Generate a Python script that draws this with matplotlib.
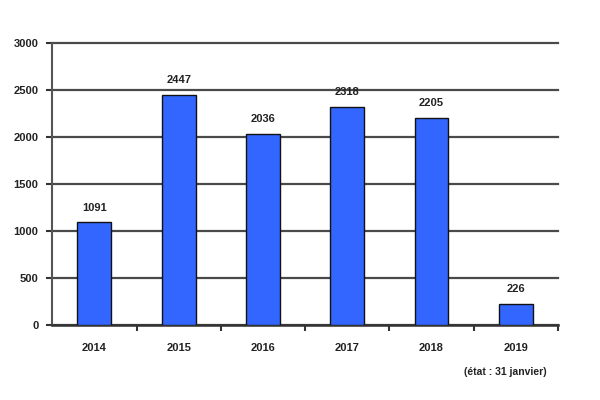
import matplotlib
matplotlib.use("Agg")
import matplotlib.pyplot as plt

plt.rcParams['font.family'] = ['Liberation Sans', 'DejaVu Sans']

years = ["2014", "2015", "2016", "2017", "2018", "2019"]
values = [1091, 2447, 2036, 2318, 2205, 226]
yticks = [0, 500, 1000, 1500, 2000, 2500, 3000]
note = "(état : 31 janvier)"

fig = plt.figure(figsize=(6, 4), dpi=100)
ax = fig.add_axes([0.087, 0.1875, 0.843, 0.705])

x = list(range(len(years)))
ax.bar(x, values, width=0.4, color="#3366FF", edgecolor="#111111", linewidth=1.0, zorder=3)
for xi, v in zip(x, values):
    ax.annotate(str(v), (xi, v), xytext=(0, 7), textcoords="offset points",
                ha="center", va="bottom", fontsize=8, fontweight="bold", color="#222222")

ax.set_xlim(-0.5, len(years) - 0.5)
ax.set_ylim(0, 3000)
ax.set_yticks(yticks)
ax.set_yticklabels([str(t) for t in yticks], fontsize=8, fontweight="bold", color="#222222")
ax.set_xticks(x)
ax.set_xticklabels(years, fontsize=8, fontweight="bold", color="#222222")
ax.tick_params(axis="x", length=0, pad=13)
ax.tick_params(axis="y", length=4, width=1.5, color="#333333", pad=6)
ax.set_xticks([i + 0.5 for i in range(len(years))], minor=True)
ax.tick_params(axis="x", which="minor", length=4, width=1.5, color="#333333")

ax.yaxis.grid(True, color="#4a4a4a", linewidth=1.6, zorder=0)
for gl in ax.get_ygridlines():
    gl.set_clip_on(False)
ax.set_axisbelow(True)
for s in ["top", "right"]:
    ax.spines[s].set_visible(False)
ax.spines["left"].set_color("#555555")
ax.spines["left"].set_linewidth(1.5)
ax.spines["bottom"].set_color("#333333")
ax.spines["bottom"].set_linewidth(1.8)

fig.text(0.842, 0.07, note, ha="center", va="center", fontsize=7.5, fontweight="bold", color="#222222")

fig.savefig("out.png", dpi=100)
